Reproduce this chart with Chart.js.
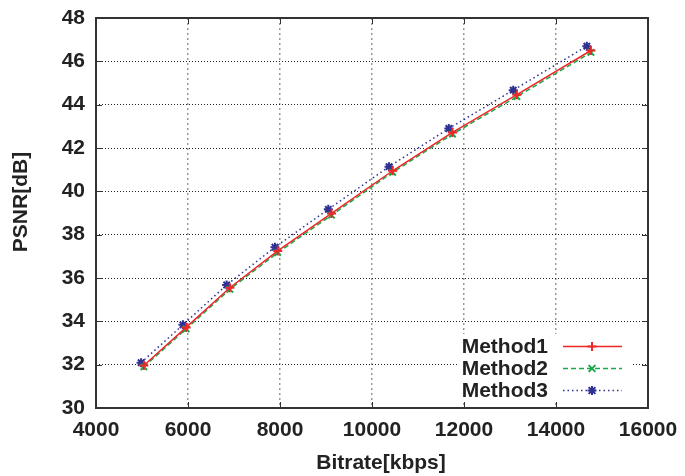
<!DOCTYPE html>
<html>
<head>
<meta charset="utf-8">
<script src="https://cdn.jsdelivr.net/npm/chart.js@4.4.1/dist/chart.umd.min.js"></script>
<style>
  body { margin: 0; background: #fff; }
</style>
</head>
<body>
<canvas id="psnrChart" width="685" height="476"></canvas>
<script>
// values
const labels = ["Method1", "Method2", "Method3"];
const bitrate1 = [5040, 5960, 6910, 7950, 9120, 10450, 11750, 13150, 14760];
const psnr1 = [31.96, 33.72, 35.55, 37.25, 38.98, 40.95, 42.72, 44.46, 46.5];
const bitrate2 = [5040, 5960, 6910, 7950, 9120, 10450, 11750, 13150, 14760];
const psnr2 = [31.9, 33.65, 35.48, 37.17, 38.9, 40.88, 42.64, 44.37, 46.41];
const bitrate3 = [4980, 5890, 6840, 7890, 9050, 10370, 11670, 13070, 14670];
const psnr3 = [32.09, 33.84, 35.68, 37.42, 39.17, 41.14, 42.9, 44.67, 46.7];
const xTicks = [4000, 6000, 8000, 10000, 12000, 14000, 16000];
const yTicks = [30, 32, 34, 36, 38, 40, 42, 44, 46, 48];
const xTitle = "Bitrate[kbps]";
const yTitle = "PSNR[dB]";

const FONT = "'Liberation Sans', Arial, sans-serif";
const colors = ["#ee2626", "#1aa64a", "#2e3192"];
const dashes = [[], [5, 3], [1.5, 3]];
const markers = ["cross", "crossRot", "star"];

function toPoints(xs, ys) {
  return xs.map((v, i) => ({ x: v, y: ys[i] }));
}

function drawMarker(ctx, style, cx, cy, r) {
  ctx.beginPath();
  if (style === "cross" || style === "star") {
    ctx.moveTo(cx - r, cy); ctx.lineTo(cx + r, cy);
    ctx.moveTo(cx, cy - r); ctx.lineTo(cx, cy + r);
  }
  if (style === "crossRot" || style === "star") {
    const d = r * 0.75;
    ctx.moveTo(cx - d, cy - d); ctx.lineTo(cx + d, cy + d);
    ctx.moveTo(cx - d, cy + d); ctx.lineTo(cx + d, cy - d);
  }
  ctx.stroke();
}

// frame, inner tick marks, axis titles and the gnuplot-style key
const framePlugin = {
  id: "frame",
  afterDatasetsDraw(chart) {
    const { ctx, chartArea: a, scales } = chart;
    ctx.save();

    // key
    ctx.fillStyle = "#fff";
    ctx.fillRect(a.right - 191, a.bottom - 74, 176, 68);
    ctx.font = "bold 21px " + FONT;
    ctx.textAlign = "right";
    ctx.textBaseline = "middle";
    labels.forEach((name, i) => {
      const cy = a.bottom - 61.5 + i * 22;
      ctx.fillStyle = "#222";
      ctx.fillText(name, a.right - 100, cy + 1);
      ctx.strokeStyle = colors[i];
      ctx.lineWidth = 1.5;
      ctx.setLineDash(dashes[i]);
      ctx.beginPath();
      ctx.moveTo(a.right - 85, cy);
      ctx.lineTo(a.right - 26, cy);
      ctx.stroke();
      ctx.setLineDash([]);
      ctx.lineWidth = 2;
      drawMarker(ctx, markers[i], a.right - 56, cy, 4.5);
    });

    // axis titles
    ctx.fillStyle = "#222";
    ctx.textAlign = "center";
    ctx.fillText(xTitle, (a.left + a.right) / 2 + 9, a.bottom + 55);
    ctx.save();
    ctx.translate(21, (a.top + a.bottom) / 2 - 11);
    ctx.rotate(-Math.PI / 2);
    ctx.fillText(yTitle, 0, 0);
    ctx.restore();

    // tick marks pointing inwards
    ctx.strokeStyle = "#333";
    ctx.lineWidth = 1;
    ctx.beginPath();
    xTicks.forEach(v => {
      const px = Math.round(scales.x.getPixelForValue(v)) + 0.5;
      ctx.moveTo(px, a.bottom); ctx.lineTo(px, a.bottom - 6);
      ctx.moveTo(px, a.top); ctx.lineTo(px, a.top + 6);
    });
    yTicks.forEach(v => {
      const py = Math.round(scales.y.getPixelForValue(v)) + 0.5;
      ctx.moveTo(a.left, py); ctx.lineTo(a.left + 6, py);
      ctx.moveTo(a.right, py); ctx.lineTo(a.right - 6, py);
    });
    ctx.stroke();

    // plot box
    ctx.strokeStyle = "#333";
    ctx.lineWidth = 2;
    ctx.strokeRect(a.left, a.top, a.right - a.left, a.bottom - a.top);
    ctx.restore();
  }
};

const ctx = document.getElementById("psnrChart");
new Chart(ctx, {
  type: "line",
  data: {
    datasets: [
      { label: labels[0], data: toPoints(bitrate1, psnr1) },
      { label: labels[1], data: toPoints(bitrate2, psnr2) },
      { label: labels[2], data: toPoints(bitrate3, psnr3) },
    ].map((ds, i) => Object.assign(ds, {
      borderColor: colors[i],
      backgroundColor: colors[i],
      borderWidth: 1.5,
      borderDash: dashes[i],
      pointStyle: markers[i],
      pointRadius: 4.5,
      pointBorderWidth: 2,
      tension: 0,
      fill: false,
    })),
  },
  options: {
    responsive: false,
    animation: false,
    layout: { padding: { top: 18, right: 37, bottom: 0, left: 0 } },
    plugins: { legend: { display: false }, tooltip: { enabled: false } },
    scales: {
      x: {
        type: "linear",
        min: 4000,
        max: 16000,
        afterBuildTicks: s => { s.ticks = xTicks.map(v => ({ value: v })); },
        afterFit: s => { s.height = 68; s.paddingLeft = 0; s.paddingRight = 0; },
        ticks: {
          padding: 10,
          color: "#222",
          font: { family: FONT, size: 21, weight: "bold" },
          callback: v => String(v),
        },
        grid: { color: "#999", lineWidth: 1.5, drawTicks: false },
        border: { display: false, dash: [2, 3] },
      },
      y: {
        min: 30,
        max: 48,
        afterBuildTicks: s => { s.ticks = yTicks.map(v => ({ value: v })); },
        afterFit: s => { s.width = 96; s.paddingTop = 0; s.paddingBottom = 0; },
        ticks: { padding: 11, color: "#222", font: { family: FONT, size: 21, weight: "bold" } },
        grid: { color: "#222", lineWidth: 1, drawTicks: false },
        border: { display: false, dash: [1, 2] },
      },
    },
  },
  plugins: [framePlugin],
});
</script>
</body>
</html>
